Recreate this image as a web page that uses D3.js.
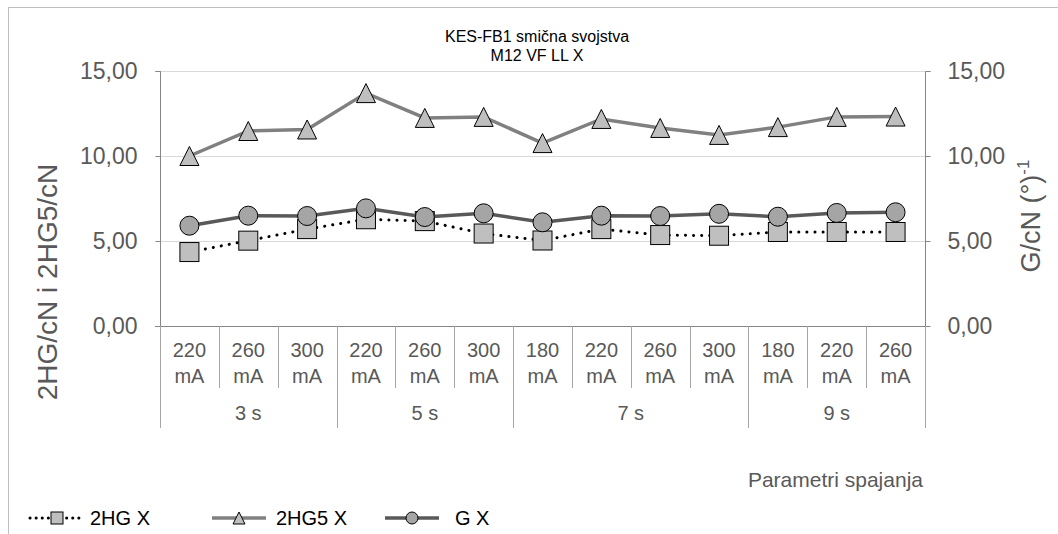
<!DOCTYPE html>
<html>
<head>
<meta charset="utf-8">
<style>
body { margin: 0; background: #fff; }
svg { font-family: 'Liberation Sans', Arial, sans-serif; }
</style>
</head>
<body>
<svg width="1058" height="534"></svg>
<script src="https://d3js.org/d3.v7.min.js"></script>
<script>

// category labels
const currents = ['220', '260', '300', '220', '260', '300', '180', '220', '260', '300', '180', '220', '260'];
const times = ['3 s', '5 s', '7 s', '9 s'];
const groupSizes = [3, 3, 4, 3];

// series values
const hgX = [4.35, 5.02, 5.70, 6.28, 6.17, 5.44, 5.03, 5.70, 5.35, 5.31, 5.53, 5.53, 5.53];
const hg5X = [10.00, 11.47, 11.56, 13.70, 12.24, 12.30, 10.76, 12.18, 11.65, 11.24, 11.70, 12.30, 12.32];
const gX = [5.90, 6.49, 6.47, 6.92, 6.41, 6.63, 6.10, 6.49, 6.47, 6.60, 6.43, 6.65, 6.69];

const yTicks = [0, 5, 10, 15];

const svg = d3.select('svg');

const plot = {left: 160, right: 925, top: 71, bottom: 326};
const labelColor = '#595959';
const axisColor = '#868686';

// outer frame of chart area
svg.append('rect')
    .attr('x', 8.5).attr('y', 7.5)
    .attr('width', 1200).attr('height', 700)
    .attr('fill', 'none')
    .attr('stroke', '#bfbfbf');

const x = d3.scaleBand()
    .domain(d3.range(currents.length))
    .range([plot.left, plot.right]);

const y = d3.scaleLinear()
    .domain([0, 15])
    .range([plot.bottom, plot.top]);

const fmt = d => d3.format('.2f')(d).replace('.', ',');

// gridlines
svg.append('g')
    .selectAll('line')
    .data(yTicks.filter(d => d > 0))
    .join('line')
    .attr('x1', plot.left).attr('x2', plot.right)
    .attr('y1', d => Math.round(y(d)) + 0.5).attr('y2', d => Math.round(y(d)) + 0.5)
    .attr('stroke', '#d9d9d9');

// left axis
const leftAxis = svg.append('g')
    .attr('transform', `translate(${plot.left + 0.5},0)`)
    .call(d3.axisLeft(y).tickValues(yTicks).tickFormat(fmt).tickSize(5).tickPadding(18));
leftAxis.select('.domain').attr('stroke', axisColor).attr('d', `M-5,${plot.top + 0.5}H0V${plot.bottom}`);
leftAxis.selectAll('.tick line').attr('stroke', axisColor);
leftAxis.selectAll('.tick text').attr('fill', labelColor).attr('font-size', 23);

// right axis
const rightAxis = svg.append('g')
    .attr('transform', `translate(${plot.right + 0.5},0)`)
    .call(d3.axisRight(y).tickValues(yTicks).tickFormat(fmt).tickSize(5).tickPadding(17));
rightAxis.select('.domain').attr('stroke', axisColor).attr('d', `M5,${plot.top + 0.5}H0V${plot.bottom}`);
rightAxis.selectAll('.tick line').attr('stroke', axisColor);
rightAxis.selectAll('.tick text').attr('fill', labelColor).attr('font-size', 23);

// category axis
const catAxis = svg.append('g');
catAxis.append('line')
    .attr('x1', plot.left - 5).attr('x2', plot.right + 5)
    .attr('y1', plot.bottom + 0.5).attr('y2', plot.bottom + 0.5)
    .attr('stroke', axisColor);

const groupStarts = [];
let acc = 0;
groupSizes.forEach(n => { groupStarts.push(acc); acc += n; });

const edges = d3.range(currents.length + 1);
catAxis.selectAll('.div')
    .data(edges)
    .join('line')
    .attr('x1', i => Math.round(i < currents.length ? x(i) : plot.right) + 0.5)
    .attr('x2', i => Math.round(i < currents.length ? x(i) : plot.right) + 0.5)
    .attr('y1', plot.bottom)
    .attr('y2', i => (groupStarts.includes(i) || i === currents.length) ? 428 : 388)
    .attr('stroke', '#a6a6a6');

const catText = catAxis.selectAll('.cat')
    .data(currents)
    .join('text')
    .attr('text-anchor', 'middle')
    .attr('fill', labelColor)
    .attr('font-size', 20);
catText.append('tspan')
    .attr('x', (d, i) => x(i) + x.bandwidth() / 2)
    .attr('y', 357)
    .text(d => d);
catText.append('tspan')
    .attr('x', (d, i) => x(i) + x.bandwidth() / 2)
    .attr('y', 383)
    .text('mA');

catAxis.selectAll('.grp')
    .data(times)
    .join('text')
    .attr('x', (d, i) => {
        const a = x(groupStarts[i]);
        const b = x(groupStarts[i] + groupSizes[i] - 1) + x.bandwidth();
        return (a + b) / 2;
    })
    .attr('y', 420)
    .attr('text-anchor', 'middle')
    .attr('fill', labelColor)
    .attr('font-size', 20)
    .text(d => d);

// titles
const title = svg.append('text')
    .attr('text-anchor', 'middle')
    .attr('font-size', 16)
    .attr('fill', '#000');
title.append('tspan').attr('x', 537).attr('y', 42).text('KES-FB1 smična svojstva');
title.append('tspan').attr('x', 537).attr('y', 61).text('M12 VF LL X');

svg.append('text')
    .attr('transform', 'translate(57,282) rotate(-90)')
    .attr('text-anchor', 'middle')
    .attr('font-size', 28)
    .attr('fill', labelColor)
    .text('2HG/cN i 2HG5/cN');

const rt = svg.append('text')
    .attr('transform', 'translate(1040,216) rotate(-90)')
    .attr('text-anchor', 'middle')
    .attr('font-size', 27)
    .attr('fill', labelColor);
rt.append('tspan').text('G/cN (°)');
rt.append('tspan').attr('font-size', 17).attr('dy', -11).text('-1');

svg.append('text')
    .attr('x', 923).attr('y', 487)
    .attr('text-anchor', 'end')
    .attr('font-size', 21)
    .attr('fill', labelColor)
    .text('Parametri spajanja');

// series
const cx = i => x(i) + x.bandwidth() / 2;
const line = d3.line().x((d, i) => cx(i)).y(d => y(d));

const series = [
    {name: '2HG X', values: hgX, stroke: '#000', width: 3, dash: '0.1 8', marker: 'square', fill: '#bfbfbf'},
    {name: '2HG5 X', values: hg5X, stroke: '#808080', width: 3.5, dash: null, marker: 'triangle', fill: '#bfbfbf'},
    {name: 'G X', values: gX, stroke: '#595959', width: 3.5, dash: null, marker: 'circle', fill: '#a5a5a5'}
];

function drawMarker(g, type, px, py, s, fill) {
    if (type === 'square') {
        g.append('rect')
            .attr('x', px - s / 2).attr('y', py - s / 2)
            .attr('width', s).attr('height', s)
            .attr('fill', fill).attr('stroke', '#000').attr('stroke-width', 1);
    } else if (type === 'triangle') {
        const h = s;
        g.append('path')
            .attr('d', `M${px},${py - h / 2}L${px + s / 2},${py + h / 2}L${px - s / 2},${py + h / 2}Z`)
            .attr('fill', fill).attr('stroke', '#000').attr('stroke-width', 1);
    } else {
        g.append('circle')
            .attr('cx', px).attr('cy', py).attr('r', s / 2)
            .attr('fill', fill).attr('stroke', '#000').attr('stroke-width', 1);
    }
}

series.forEach(s => {
    const g = svg.append('g');
    g.append('path')
        .attr('d', line(s.values))
        .attr('fill', 'none')
        .attr('stroke', s.stroke)
        .attr('stroke-width', s.width)
        .attr('stroke-linecap', s.dash ? 'round' : 'butt')
        .attr('stroke-dasharray', s.dash);
    s.values.forEach((v, i) => drawMarker(g, s.marker, cx(i), y(v), 19, s.fill));
});

// legend
const legendX = [30, 212, 385];
const legendText = [60, 64, 70];
series.forEach((s, i) => {
    const g = svg.append('g');
    const x0 = legendX[i];
    const ly = 518;
    g.append('line')
        .attr('x1', x0).attr('x2', x0 + 54)
        .attr('y1', ly).attr('y2', ly)
        .attr('stroke', s.stroke)
        .attr('stroke-width', s.width)
        .attr('stroke-linecap', s.dash ? 'round' : 'butt')
        .attr('stroke-dasharray', s.dash ? '0.1 6' : null);
    drawMarker(g, s.marker, x0 + 27, ly, 12, s.fill);
    g.append('text')
        .attr('x', x0 + legendText[i]).attr('y', ly + 7)
        .attr('font-size', 20)
        .attr('fill', '#000')
        .text(s.name);
});

</script>
</body>
</html>
